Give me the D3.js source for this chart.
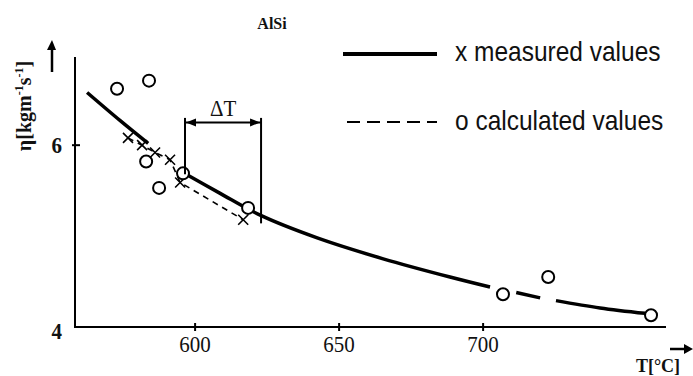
<!DOCTYPE html>
<html>
<head>
<meta charset="utf-8">
<script src="https://cdn.jsdelivr.net/npm/d3@7"></script>
<style>
  body { margin: 0; background: #fff; }
  svg { display: block; }
  .serif { font-family: "Liberation Serif", "DejaVu Serif", serif; fill: #111; }
  .sans { font-family: "Liberation Sans", Arial, sans-serif; fill: #111; }
</style>
</head>
<body>
<svg id="chart" width="693" height="376"></svg>
<script>
// measured curve (null = break in the line)
var curveT   = [562.5, 574.0, 583.7, null, 595.8, 608.7, 622.6, 642.4, 665.3, 688.5, 702.4, null, 711.5, 719.8, null, 725.3, 740.6, 756.3];
var curveEta = [6.58, 6.27, 6.02, null, 5.70, 5.47, 5.23, 4.98, 4.75, 4.55, 4.44, null, 4.38, 4.32, null, 4.29, 4.21, 4.15];

// x markers with dashed line
var crossT   = [576.7, 581.6, 586.1, 591.3, 594.8, 616.7];
var crossEta = [6.08, 6.00, 5.92, 5.84, 5.59, 5.18];

// o markers
var circleT   = [572.9, 584.0, 583.0, 587.5, 595.8, 618.4, 706.9, 722.6, 758.3];
var circleEta = [6.62, 6.71, 5.82, 5.53, 5.69, 5.31, 4.36, 4.55, 4.13];

var xTicks = [600, 650, 700];
var yTicks = [4, 6];

// delta T bracket: left/right temperature, bottoms of the vertical lines
var deltaT = [596.5, 622.9];
var deltaBottom = [5.68, 5.14];
var deltaTop = 6.30, deltaArrow = 6.25;

var svg = d3.select("#chart");

var x = d3.scaleLinear().domain([558.3, 763.5]).range([75, 666]);
var y = d3.scaleLinear().domain([4, 6.97]).range([327, 57]);

// axes
svg.append("line").attr("x1", 75).attr("x2", 75).attr("y1", y.range()[1]).attr("y2", 328)
    .attr("stroke", "#000").attr("stroke-width", 2);
svg.append("line").attr("x1", 74).attr("x2", x.range()[1]).attr("y1", 327).attr("y2", 327)
    .attr("stroke", "#000").attr("stroke-width", 2);

svg.selectAll(".xtick").data(xTicks).enter().append("line")
    .attr("x1", function(d) { return x(d); })
    .attr("x2", function(d) { return x(d); })
    .attr("y1", 323).attr("y2", 331)
    .attr("stroke", "#000").attr("stroke-width", 2);
svg.selectAll(".xlab").data(xTicks).enter().append("text")
    .attr("class", "serif")
    .attr("transform", function(d) { return "translate(" + x(d) + ",352) scale(1,1.1)"; })
    .attr("text-anchor", "middle")
    .attr("font-size", 21)
    .text(function(d) { return d; });

svg.selectAll(".ytick").data(yTicks.filter(function(d) { return d > 4; })).enter().append("line")
    .attr("x1", 72).attr("x2", 80)
    .attr("y1", function(d) { return y(d); })
    .attr("y2", function(d) { return y(d); })
    .attr("stroke", "#000").attr("stroke-width", 2);
svg.selectAll(".ylab").data(yTicks).enter().append("text")
    .attr("class", "serif")
    .attr("transform", function(d) { return "translate(62," + (y(d) + (d === 4 ? 12 : 8)) + ") scale(1,1.1)"; })
    .attr("text-anchor", "end")
    .attr("font-size", 21)
    .attr("font-weight", "bold")
    .text(function(d) { return d; });

// axis titles with arrows
var yTitle = svg.append("text")
    .attr("class", "serif")
    .attr("transform", "translate(31,106) rotate(-90)")
    .attr("text-anchor", "middle")
    .attr("font-size", 20)
    .attr("font-weight", "bold");
yTitle.append("tspan").text("η[kgm");
yTitle.append("tspan").attr("dy", -8).attr("font-size", 12).text("-1");
yTitle.append("tspan").attr("dy", 8).text("s");
yTitle.append("tspan").attr("dy", -8).attr("font-size", 12).text("-1");
yTitle.append("tspan").attr("dy", 8).text("]");

svg.append("line").attr("x1", 52).attr("x2", 52).attr("y1", 72).attr("y2", 48)
    .attr("stroke", "#000").attr("stroke-width", 2.5);
svg.append("path").attr("d", "M47,50 L52,40 L56,50 Z").attr("fill", "#000");

svg.append("text").attr("class", "serif")
    .attr("x", 658).attr("y", 372)
    .attr("text-anchor", "middle")
    .attr("font-size", 18).attr("font-weight", "bold")
    .text("T[°C]");
svg.append("line").attr("x1", 670).attr("x2", 686).attr("y1", 349).attr("y2", 349)
    .attr("stroke", "#000").attr("stroke-width", 2.5);
svg.append("path").attr("d", "M684,344 L693,349 L684,354 Z").attr("fill", "#000");

// title
svg.append("text").attr("class", "serif")
    .attr("x", 272).attr("y", 29)
    .attr("text-anchor", "middle")
    .attr("font-size", 16).attr("font-weight", "bold")
    .text("AlSi");

// measured curve
var curveData = curveT.map(function(t, i) { return t === null ? null : [t, curveEta[i]]; });
var line = d3.line()
    .defined(function(d) { return d !== null; })
    .x(function(d) { return x(d[0]); })
    .y(function(d) { return y(d[1]); })
    .curve(d3.curveCatmullRom.alpha(0.5));
svg.append("path").datum(curveData)
    .attr("d", line)
    .attr("fill", "none").attr("stroke", "#000").attr("stroke-width", 3.5);

// dashed line through crosses
var crossData = crossT.map(function(t, i) { return [t, crossEta[i]]; });
svg.append("path").datum(crossData)
    .attr("d", d3.line().x(function(d) { return x(d[0]); }).y(function(d) { return y(d[1]); }))
    .attr("fill", "none").attr("stroke", "#000").attr("stroke-width", 1.6)
    .attr("stroke-dasharray", "6,5");
svg.selectAll(".cross").data(crossData).enter().append("path")
    .attr("d", function(d) {
        var cx = x(d[0]), cy = y(d[1]), s = 5;
        return "M" + (cx - s) + "," + (cy - s) + "L" + (cx + s) + "," + (cy + s) +
               "M" + (cx - s) + "," + (cy + s) + "L" + (cx + s) + "," + (cy - s);
    })
    .attr("stroke", "#000").attr("stroke-width", 1.6);

// circles
var circleData = circleT.map(function(t, i) { return [t, circleEta[i]]; });
svg.selectAll(".circ").data(circleData).enter().append("circle")
    .attr("cx", function(d) { return x(d[0]); })
    .attr("cy", function(d) { return y(d[1]); })
    .attr("r", 6)
    .attr("fill", "#fff").attr("stroke", "#000").attr("stroke-width", 2);

// delta T bracket
deltaT.forEach(function(t, i) {
    svg.append("line")
        .attr("x1", x(t)).attr("x2", x(t))
        .attr("y1", y(deltaTop)).attr("y2", y(deltaBottom[i]))
        .attr("stroke", "#000").attr("stroke-width", 2);
});
svg.append("line")
    .attr("x1", x(deltaT[0])).attr("x2", x(deltaT[1]))
    .attr("y1", y(deltaArrow)).attr("y2", y(deltaArrow))
    .attr("stroke", "#000").attr("stroke-width", 2);
var ay = y(deltaArrow);
svg.append("path").attr("d", "M" + (x(deltaT[0]) + 1) + "," + ay + " l10,-4 l0,8 Z").attr("fill", "#000");
svg.append("path").attr("d", "M" + (x(deltaT[1]) - 1) + "," + ay + " l-10,-4 l0,8 Z").attr("fill", "#000");
svg.append("text").attr("class", "serif")
    .attr("transform", "translate(" + ((x(deltaT[0]) + x(deltaT[1])) / 2) + "," + (ay - 6) + ") scale(1,1.1)")
    .attr("text-anchor", "middle")
    .attr("font-size", 21)
    .text("ΔT");

// legend
svg.append("line").attr("x1", 343).attr("x2", 437).attr("y1", 54).attr("y2", 54)
    .attr("stroke", "#000").attr("stroke-width", 4);
svg.append("line").attr("x1", 347).attr("x2", 437).attr("y1", 122).attr("y2", 122)
    .attr("stroke", "#000").attr("stroke-width", 2)
    .attr("stroke-dasharray", "13,7");
svg.append("text").attr("class", "sans")
    .attr("transform", "translate(455,61) scale(1,1.12)")
    .attr("font-size", 24.5)
    .text("x measured values");
svg.append("text").attr("class", "sans")
    .attr("transform", "translate(455,130) scale(1,1.12)")
    .attr("font-size", 24.5)
    .text("o calculated values");
</script>
</body>
</html>
